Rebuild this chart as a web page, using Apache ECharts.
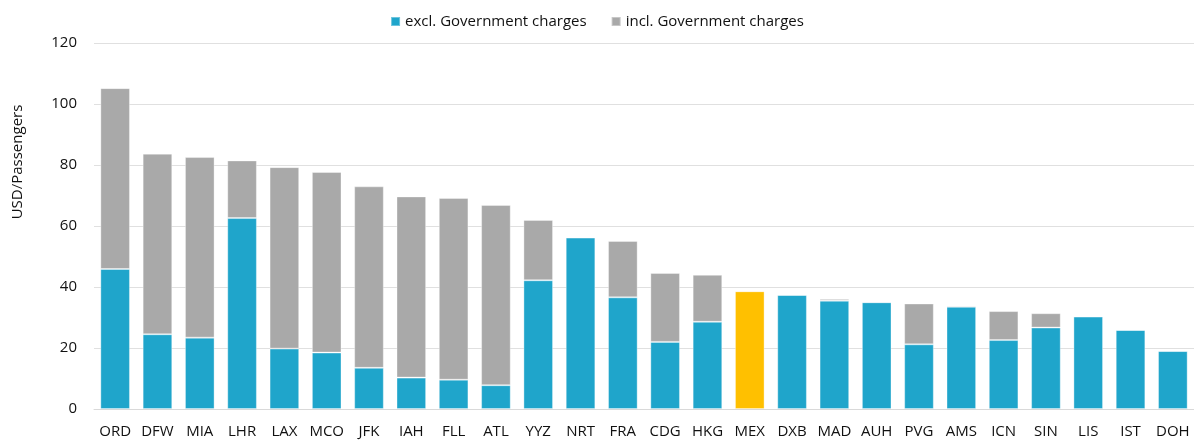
<!DOCTYPE html>
<html>
<head>
<meta charset="utf-8">
<script src="https://cdn.jsdelivr.net/npm/echarts@6/dist/echarts.min.js"></script>
<style>
	html, body { margin: 0; padding: 0; background: #ffffff; }
	#chart { width: 1194px; height: 441px; }
</style>
</head>
<body>
<div id="chart"></div>
<script>
	var airports = ['ORD','DFW','MIA','LHR','LAX','MCO','JFK','IAH','FLL','ATL','YYZ','NRT','FRA',
		'CDG','HKG','MEX','DXB','MAD','AUH','PVG','AMS','ICN','SIN','LIS','IST','DOH'];

	// charges without government part
	var exclGov = [45.9, 24.5, 23.4, 62.6, 19.8, 18.5, 13.5, 10.3, 9.6, 7.8, 42.2, 56.2, 36.6,
		22.0, 28.6, 38.6, 37.4, 35.5, 35.0, 21.2, 33.5, 22.6, 26.7, 30.3, 25.9, 19.0];

	// total charges, government part included
	var inclGov = [105.2, 83.7, 82.6, 81.5, 79.3, 77.7, 73.0, 69.7, 69.2, 66.9, 62.0, 56.2, 55.1,
		44.6, 44.0, 38.6, 37.4, 36.1, 35.0, 34.6, 33.9, 32.1, 31.4, 30.3, 25.9, 19.0];

	var yTicks = [0, 20, 40, 60, 80, 100, 120];

	var BLUE = '#1fa5cb';
	var GREY = '#a9a9a9';
	var HIGHLIGHT = 'MEX';

	var chart = echarts.init(document.getElementById('chart'));

	var blueData = [];
	var greyData = [];
	for(var i = 0; i < airports.length; i++){
		if(airports[i] == HIGHLIGHT){
			blueData.push({ value: exclGov[i], itemStyle: { color: '#ffc000' } });
		}else{
			blueData.push(exclGov[i]);
		}
		greyData.push(+(inclGov[i] - exclGov[i]).toFixed(2));
	}

	var font = '"Open Sans", "Noto Sans", sans-serif';

	var option = {
		backgroundColor: '#ffffff',
		animation: false,
		textStyle: { fontFamily: font },

		legend: {
			top: 9,
			left: 'center',
			itemWidth: 9,
			itemHeight: 9,
			itemGap: 24,
			textStyle: { fontSize: 15, color: '#111', fontFamily: font },
			data: [
				{ name: 'excl. Government charges', icon: 'rect' },
				{ name: 'incl. Government charges', icon: 'rect' }
			]
		},

		grid: { left: 94, right: -8, top: 43, bottom: 32 },

		xAxis: {
			type: 'category',
			data: airports,
			axisTick: { show: false },
			axisLine: { lineStyle: { color: '#d9d9d9', width: 1 } },
			axisLabel: { color: '#111', fontSize: 15, margin: 15, interval: 0, fontFamily: font }
		},

		yAxis: {
			type: 'value',
			min: yTicks[0],
			max: yTicks[yTicks.length - 1],
			interval: 20,
			axisLine: { show: false },
			axisTick: { show: false },
			axisLabel: { color: '#111', fontSize: 15, margin: 17, fontFamily: font },
			splitLine: { lineStyle: { color: '#e0e0e0', width: 1 } }
		},

		graphic: [
			{
				type: 'text',
				x: 18,
				y: 162,
				rotation: Math.PI / 2,
				style: {
					text: 'USD/Passengers',
					fill: '#111',
					fontSize: 15,
					fontFamily: font,
					align: 'center',
					verticalAlign: 'middle'
				}
			}
		],

		series: [
			{
				name: 'excl. Government charges',
				type: 'bar',
				stack: 'all',
				data: blueData,
				barCategoryGap: '30%',
				itemStyle: { color: BLUE, borderColor: 'rgba(255,255,255,0.35)', borderWidth: 1 }
			},
			{
				name: 'incl. Government charges',
				type: 'bar',
				stack: 'all',
				data: greyData,
				barCategoryGap: '30%',
				itemStyle: { color: GREY, borderColor: 'rgba(255,255,255,0.35)', borderWidth: 1 }
			}
		]
	};

	chart.setOption(option);
</script>
</body>
</html>
